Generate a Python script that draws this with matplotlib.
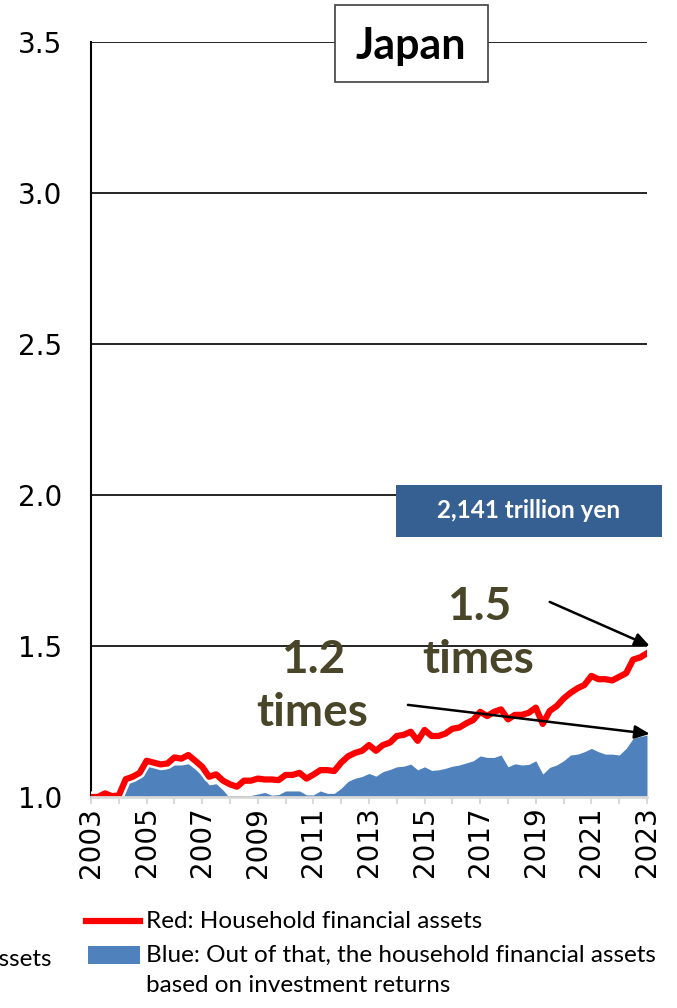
import matplotlib
matplotlib.use('Agg')
import matplotlib.pyplot as plt
import matplotlib.patheffects as pe
from matplotlib.patches import Rectangle
from matplotlib.lines import Line2D

# quarterly, 2003Q1 = 1.0
start_year = 2003
household = [
    1.000, 1.000, 1.012, 1.003, 1.005, 1.059, 1.067, 1.080,
    1.120, 1.114, 1.108, 1.111, 1.131, 1.127, 1.139, 1.120,
    1.100, 1.067, 1.075, 1.054, 1.042, 1.034, 1.054, 1.054,
    1.061, 1.058, 1.058, 1.056, 1.073, 1.073, 1.080, 1.061,
    1.074, 1.089, 1.089, 1.086, 1.114, 1.135, 1.146, 1.153,
    1.172, 1.153, 1.172, 1.180, 1.202, 1.206, 1.216, 1.186,
    1.222, 1.202, 1.202, 1.210, 1.226, 1.230, 1.244, 1.255,
    1.282, 1.268, 1.282, 1.290, 1.257, 1.272, 1.272, 1.279,
    1.296, 1.242, 1.285, 1.301, 1.326, 1.345, 1.360, 1.371,
    1.401, 1.390, 1.390, 1.386, 1.398, 1.410, 1.455, 1.462,
    1.476,
]
investment = [
    1.000, 0.990, 0.995, 0.990, 1.000, 1.045, 1.056, 1.067,
    1.106, 1.100, 1.090, 1.094, 1.106, 1.106, 1.110, 1.092,
    1.070, 1.040, 1.044, 1.023, 0.995, 0.975, 1.003, 1.005,
    1.010, 1.015, 1.006, 1.008, 1.020, 1.020, 1.020, 1.007,
    1.007, 1.020, 1.012, 1.012, 1.029, 1.052, 1.062, 1.068,
    1.078, 1.069, 1.084, 1.091, 1.100, 1.102, 1.109, 1.090,
    1.100, 1.088, 1.090, 1.095, 1.102, 1.106, 1.113, 1.120,
    1.136, 1.131, 1.131, 1.139, 1.100, 1.110, 1.106, 1.108,
    1.120, 1.076, 1.098, 1.106, 1.120, 1.139, 1.142, 1.150,
    1.161, 1.150, 1.142, 1.142, 1.139, 1.161, 1.194, 1.200,
    1.205,
]
quarters = [start_year + i / 4 for i in range(len(household))]
years = list(range(2003, 2024))
year_labels = [str(y) if y % 2 == 1 else '' for y in years]
yticks = [1.0, 1.5, 2.0, 2.5, 3.0, 3.5]

olive = '#494529'
W, H = 677, 1008

fig = plt.figure(figsize=(W / 100, H / 100), dpi=100)
ax = fig.add_axes([91 / W, (H - 797) / H, 556 / W, 755 / H])

ax.fill_between(quarters, 1.0, investment, color='#4F81BD', lw=0, zorder=2)
ax.plot(quarters, household, color='#FF0000', lw=4.5, zorder=3,
        solid_joinstyle='round',
        path_effects=[pe.Stroke(linewidth=8, foreground='white'), pe.Normal()])

ax.set_xlim(2003, 2023)
ax.set_ylim(1.0, 3.5)
ax.set_xticks(years)
ax.set_xticklabels(year_labels, rotation=90, fontsize=20, family='DejaVu Sans')
ax.set_yticks(yticks)
ax.set_yticklabels(['%.1f' % v for v in yticks], fontsize=20, family='DejaVu Sans')
ax.tick_params(axis='x', length=5, width=1.5, color='#D9D9D9', pad=2)
ax.tick_params(axis='y', length=0, pad=21)
ax.yaxis.grid(True, color='black', lw=1.2)
ax.set_axisbelow(True)
for s in ['top', 'right']:
    ax.spines[s].set_visible(False)
ax.spines['left'].set_linewidth(1.5)
ax.spines['bottom'].set_color('#D9D9D9')
ax.spines['bottom'].set_linewidth(2)
ax.spines['bottom'].set_zorder(4)

# multiplier arrows and labels
arrow = dict(arrowstyle='-|>,head_length=0.9,head_width=0.4', color='black', lw=1.8,
             shrinkA=0, shrinkB=0)
ax.annotate('', xy=(2023.1, 1.5), xytext=(2019.5, 1.646), arrowprops=arrow,
            annotation_clip=False, zorder=5)
ax.annotate('', xy=(2023.1, 1.209), xytext=(2014.4, 1.305), arrowprops=arrow,
            annotation_clip=False, zorder=5)
big = dict(fontsize=33, fontweight='bold', color=olive, family='Lato',
           ha='center', va='center', zorder=6)
ax.text(2016.96, 1.629, '1.5', **big)
ax.text(2016.92, 1.454, 'times', **big)
ax.text(2010.99, 1.454, '1.2', **big)
ax.text(2010.95, 1.278, 'times', **big)

# title box
fig.patches.append(Rectangle((335 / W, (H - 82) / H), 153 / W, 77 / H,
                             transform=fig.transFigure, facecolor='white',
                             edgecolor='#404040', lw=1.2, zorder=10))
fig.text(411 / W, (H - 46) / H, 'Japan', fontsize=31, fontweight='bold',
         family='Lato', ha='center', va='center', zorder=11)

# value box
fig.patches.append(Rectangle((396 / W, (H - 537) / H), 266 / W, 52 / H,
                             transform=fig.transFigure, facecolor='#376092',
                             edgecolor='none', zorder=10))
fig.text(529 / W, (H - 511) / H, '2,141 trillion yen', fontsize=17.5, fontweight='bold',
         color='white', family='Lato', ha='center', va='center', zorder=11)

# legend
fig.add_artist(Line2D([86 / W, 140 / W], [(H - 921) / H] * 2, color='#FF0000', lw=4.5,
                      transform=fig.transFigure))
fig.patches.append(Rectangle((88 / W, (H - 964) / H), 52 / W, 18 / H,
                             transform=fig.transFigure, facecolor='#4F81BD',
                             edgecolor='none'))
leg = dict(fontsize=17.5, family='Lato', va='center', ha='left')
fig.text(146 / W, (H - 921) / H, 'Red: Household financial assets', **leg)
fig.text(146 / W, (H - 955) / H, 'Blue: Out of that, the household financial assets', **leg)
fig.text(146 / W, (H - 985) / H, 'based on investment returns', **leg)
fig.text(52 / W, (H - 960) / H, 'household financial assets', fontsize=17.5,
         family='Lato', va='center', ha='right')

fig.savefig('out.png', dpi=100)
